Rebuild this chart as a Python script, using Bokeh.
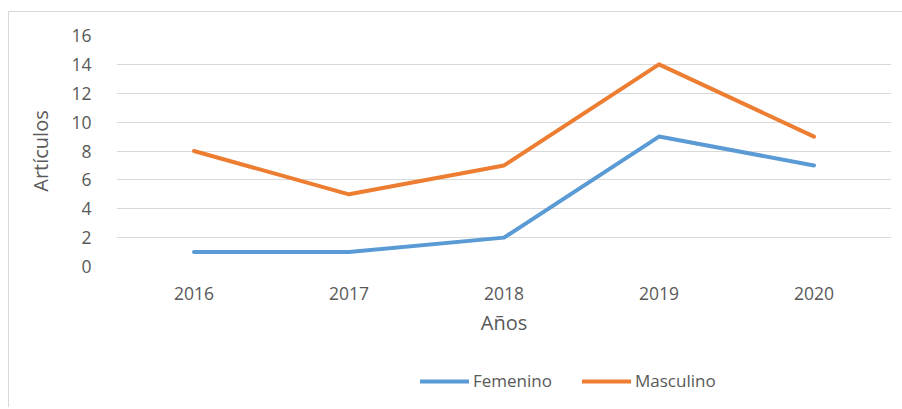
from bokeh.plotting import figure
from bokeh.layouts import column
from bokeh.models import Legend, LegendItem, Range1d, FactorRange
from bokeh.embed import file_html
from bokeh.resources import INLINE

years = ["2016", "2017", "2018", "2019", "2020"]
femenino = [1, 1, 2, 9, 7]
masculino = [8, 5, 7, 14, 9]
y_ticks = [0, 2, 4, 6, 8, 10, 12, 14, 16]
series_names = ["Femenino", "Masculino"]

FONT = "Open Sans"
TXT = "#595959"
BLUE = "#5B9BD5"
ORANGE = "#ED7D31"

p = figure(width=893, height=338, x_range=FactorRange(*years), y_range=Range1d(0, 16),
           output_backend="svg", toolbar_location=None,
           min_border_left=107, min_border_right=12, min_border_top=23, min_border_bottom=85,
           frame_width=774, frame_height=230,
           margin=(11, 0, 0, 8))
p.styles = {"border-left": "1px solid #D9D9D9", "border-top": "1px solid #D9D9D9"}
p.outline_line_color = None
p.background_fill_color = "white"
p.border_fill_color = "white"

p.line(years, femenino, line_color=BLUE, line_width=4, line_cap="round", line_join="round")
p.line(years, masculino, line_color=ORANGE, line_width=4, line_cap="round", line_join="round")

p.yaxis.ticker = y_ticks
p.ygrid.grid_line_color = "#D9D9D9"
p.ygrid.grid_line_width = 1
p.xgrid.grid_line_color = None

for ax in (p.xaxis, p.yaxis):
    ax.axis_line_color = None
    ax.major_tick_line_color = None
    ax.minor_tick_line_color = None
    ax.major_label_text_font = FONT
    ax.major_label_text_color = TXT
    ax.major_label_text_font_size = "17.5px"
    ax.axis_label_text_font = FONT
    ax.axis_label_text_color = TXT
    ax.axis_label_text_font_size = "20px"
    ax.axis_label_text_font_style = "normal"

p.yaxis.axis_label = "Artículos"
p.xaxis.axis_label = "Años"
p.yaxis.major_label_standoff = 19
p.yaxis.axis_label_standoff = 14
p.xaxis.major_label_standoff = 14
p.xaxis.axis_label_standoff = 6

# Legend strip: same series drawn out of view, legend shown in its frame
q = figure(width=893, height=57, x_range=FactorRange(*years), y_range=Range1d(100, 101),
           output_backend="svg", toolbar_location=None,
           min_border_left=0, min_border_right=0, min_border_top=0, min_border_bottom=0,
           margin=(0, 0, 0, 8))
q.styles = {"border-left": "1px solid #D9D9D9"}
q.outline_line_color = None
q.axis.visible = False
q.grid.visible = False
q1 = q.line(years, femenino, line_color=BLUE, line_width=4, line_cap="round")
q2 = q.line(years, masculino, line_color=ORANGE, line_width=4, line_cap="round")

legend = Legend(items=[LegendItem(label=series_names[0], renderers=[q1]),
                       LegendItem(label=series_names[1], renderers=[q2])],
                orientation="horizontal", location=(304, 15),
                label_text_font=FONT, label_text_color=TXT, label_text_font_size="17px",
                glyph_width=49, glyph_height=20, label_standoff=4, spacing=30,
                padding=0, margin=0, border_line_color=None, background_fill_alpha=0)
q.add_layout(legend, "center")

layout = column(p, q, spacing=0)
open("out.html", "w").write(file_html(layout, INLINE))
